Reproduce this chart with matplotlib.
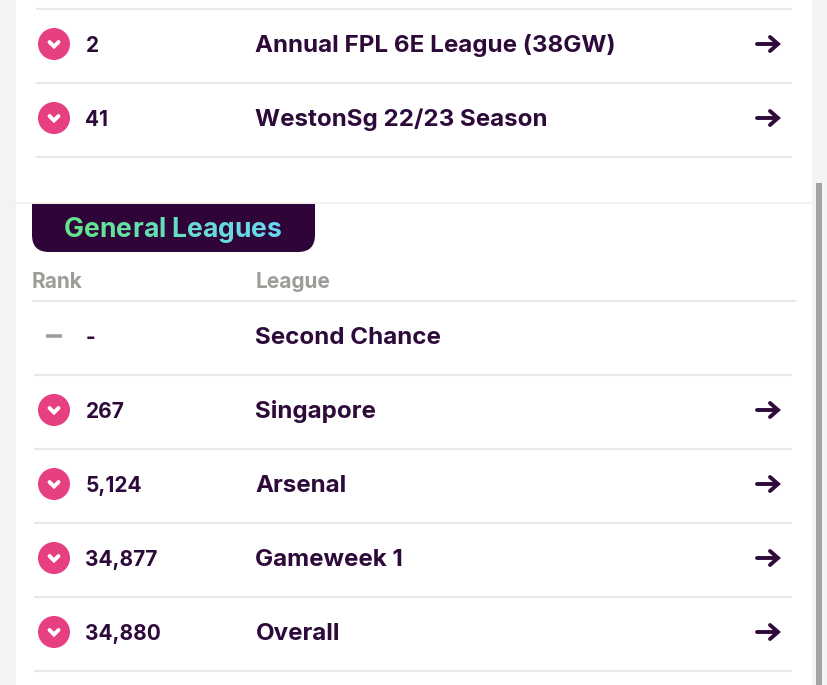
import matplotlib
matplotlib.use("Agg")
import matplotlib.pyplot as plt
from matplotlib.patches import Rectangle, Circle, PathPatch
from matplotlib.path import Path
from matplotlib.colors import to_rgb

top_ranks = ["2", "41"]
top_leagues = ["Annual FPL 6E League (38GW)", "WestonSg 22/23 Season"]
top_moves = ["down", "down"]
top_links = [True, True]
gen_ranks = ["-", "267", "5,124", "34,877", "34,880"]
gen_leagues = ["Second Chance", "Singapore", "Arsenal", "Gameweek 1", "Overall"]
gen_moves = ["same", "down", "down", "down", "down"]
gen_links = [False, True, True, True, True]
section_title = "General Leagues"
col_headers = ["Rank", "League"]

DARK = "#2d0a3a"
PINK = "#e63f82"
GREY = "#9c9c98"
LINE = "#e8e8e8"
FONT = "Inter"
WT = "bold"
TXT = 17.4
RANK_TXT = 15.0
TITLE_TXT = 19.1
HEAD_TXT = 15.0

fig = plt.figure(figsize=(8.28, 6.85), dpi=100)
ax = fig.add_axes([0, 0, 1, 1])
ax.set_xlim(0, 828); ax.set_ylim(685, 0); ax.axis("off")

ax.add_patch(Rectangle((0, 0), 828, 685, color="#f3f3f3", lw=0, zorder=0))
ax.add_patch(Rectangle((16, 0), 796, 685, color="white", lw=0, zorder=1))
ax.add_patch(Rectangle((816, 183), 6, 502, color="#a3a3a3", lw=0, zorder=2))
ax.plot([16, 812], [203, 203], color="#f0f0f0", lw=1.4, zorder=2)

def hline(x0, x1, y):
    ax.plot([x0, x1], [y, y], color=LINE, lw=1.5, zorder=2, solid_capstyle="butt")

def row(y, rank, league, move, link):
    if move == "down":
        ax.add_patch(Circle((54, y), 16, color=PINK, lw=0, zorder=3))
        ax.plot([49.5, 54, 58.5], [y - 2, y + 2.5, y - 2], color="white", lw=2.8, zorder=4,
                solid_capstyle="round", solid_joinstyle="miter")
    else:
        ax.plot([46, 62], [y, y], color=GREY, lw=2.6, zorder=4, solid_capstyle="butt")
    ax.text(85.5, y + 7.5, rank, fontsize=RANK_TXT, family=FONT, weight=WT, color=DARK,
            va="baseline", ha="left", zorder=4)
    ax.text(255.5, y + 8, league, fontsize=TXT, family=FONT, weight=WT, color=DARK,
            va="baseline", ha="left", zorder=4)
    if link:
        ax.plot([757, 777], [y, y], color=DARK, lw=2.8, zorder=4, solid_capstyle="round")
        ax.plot([770, 778, 770], [y - 7, y, y + 7], color=DARK, lw=2.8, zorder=4,
                solid_capstyle="round", solid_joinstyle="miter")

top_y = [44, 118]
gen_y = [336, 410, 484, 558, 632]

hline(36, 792, 9)
for y, r, l, m, k in zip(top_y, top_ranks, top_leagues, top_moves, top_links):
    row(y, r, l, m, k)
    hline(36, 792, y + 39)

x0, x1, y0, y1, rad = 32, 315, 204, 252, 17
verts = [(x0, y0), (x0, y1 - rad), (x0, y1), (x0 + rad, y1), (x1 - rad, y1), (x1, y1),
         (x1, y1 - rad), (x1, y0), (x0, y0)]
codes = [Path.MOVETO, Path.LINETO, Path.CURVE3, Path.CURVE3, Path.LINETO, Path.CURVE3,
         Path.CURVE3, Path.LINETO, Path.CLOSEPOLY]
ax.add_patch(PathPatch(Path(verts, codes), facecolor="#2f0539", edgecolor="none", zorder=3))

fig.canvas.draw()
rend = fig.canvas.get_renderer()
c0, c1 = to_rgb("#62e58c"), to_rgb("#68d8f2")
probe = ax.text(0, 0, section_title, fontsize=TITLE_TXT, family=FONT, weight=WT)
n = len(section_title)
def width(s):
    probe.set_text(s + "|")
    a = probe.get_window_extent(rend).width
    probe.set_text("|")
    return a - probe.get_window_extent(rend).width
for i, ch in enumerate(section_title):
    t = i / (n - 1)
    col = tuple(a + (b - a) * t for a, b in zip(c0, c1))
    ax.text(64 + width(section_title[:i]), 236.5, ch, fontsize=TITLE_TXT, family=FONT,
            weight=WT, color=col, ha="left", va="baseline", zorder=4)
probe.remove()

ax.text(32, 287.5, col_headers[0], fontsize=HEAD_TXT, family=FONT, weight=WT, color=GREY,
        ha="left", va="baseline", zorder=4)
ax.text(256, 287.5, col_headers[1], fontsize=HEAD_TXT, family=FONT, weight=WT, color=GREY,
        ha="left", va="baseline", zorder=4)
hline(32, 796, 301)

for y, r, l, m, k in zip(gen_y, gen_ranks, gen_leagues, gen_moves, gen_links):
    row(y, r, l, m, k)
    hline(34, 792, y + 39)

fig.savefig("out.png", dpi=100)
